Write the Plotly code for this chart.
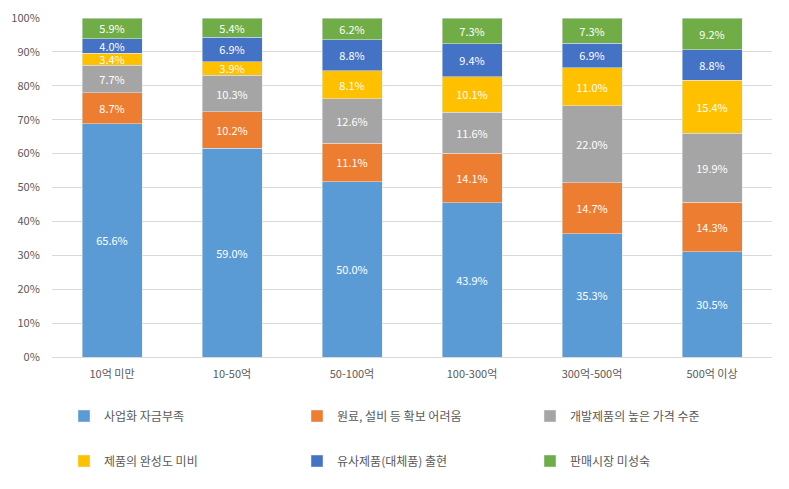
import plotly.graph_objects as go

categories = ["10억 미만", "10-50억", "50-100억", "100-300억", "300억-500억", "500억 이상"]
series_names = ["사업화 자금부족", "원료, 설비 등 확보 어려움", "개발제품의 높은 가격 수준",
                "제품의 완성도 미비", "유사제품(대체품) 출현", "판매시장 미성숙"]
s1 = [65.6, 59.0, 50.0, 43.9, 35.3, 30.5]
s2 = [8.7, 10.2, 11.1, 14.1, 14.7, 14.3]
s3 = [7.7, 10.3, 12.6, 11.6, 22.0, 19.9]
s4 = [3.4, 3.9, 8.1, 10.1, 11.0, 15.4]
s5 = [4.0, 6.9, 8.8, 9.4, 6.9, 8.8]
s6 = [5.9, 5.4, 6.2, 7.3, 7.3, 9.2]
series_values = [s1, s2, s3, s4, s5, s6]
colors = ["#5B9BD5", "#ED7D31", "#A5A5A5", "#FFC000", "#4472C4", "#70AD47"]

FONT = "Noto Sans CJK KR"
fig = go.Figure()
for i, (name, vals, col) in enumerate(zip(series_names, series_values, colors)):
    fig.add_trace(go.Bar(
        name=name, x=categories, y=vals, marker_color=col,
        text=[f"{v:.1f}%" for v in vals], texttemplate="%{text}",
        textposition="inside", insidetextanchor="middle", textangle=0,
        constraintext="none",
        textfont=dict(color="white", size=11, family=FONT),
        legend="legend" if i < 3 else "legend2",
        hoverinfo="skip",
    ))

legend_common = dict(orientation="h", entrywidth=188, entrywidthmode="pixels",
                     traceorder="normal",
                     xref="container", yref="container", xanchor="left", yanchor="middle",
                     font=dict(size=12, color="#595959", family=FONT),
                     bgcolor="rgba(0,0,0,0)", itemclick=False, itemdoubleclick=False)

W, H = 789, 489
fig.update_layout(
    barmode="stack", barnorm="percent", bargap=0.5,
    width=W, height=H,
    margin=dict(l=44, r=25, t=10, b=140, autoexpand=False),
    plot_bgcolor="white", paper_bgcolor="white",
    font=dict(family=FONT, color="#595959", size=11),
    legend=dict(x=56 / W, y=1 - 408 / H, **legend_common),
    legend2=dict(x=56 / W, y=1 - 453 / H, **legend_common),
    xaxis=dict(showline=True, linecolor="#d9d9d9", ticks="outside", ticklen=7,
               tickcolor="rgba(0,0,0,0)", tickfont=dict(size=11, color="#595959")),
    yaxis=dict(range=[0, 100], dtick=10, ticksuffix="%", showgrid=True, gridcolor="#d9d9d9",
               zeroline=False, ticks="outside", ticklen=9, tickcolor="rgba(0,0,0,0)",
               tickfont=dict(size=11, color="#595959")),
)

fig.write_html("out.html")
